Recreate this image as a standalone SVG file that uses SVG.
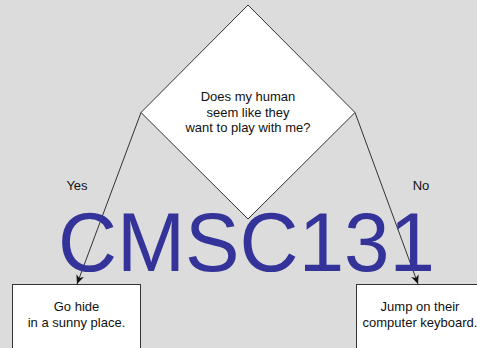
<svg xmlns="http://www.w3.org/2000/svg" width="477" height="348" viewBox="0 0 477 348">
<defs>
<style>
.shape{fill:#ffffff;stroke:#333333;stroke-width:1}
.edge{fill:none;stroke:#333333;stroke-width:1}
.lbl{font-family:"Liberation Sans",Arial,sans-serif;font-size:13px;fill:#111111;text-anchor:middle}
.wm{font-family:"Liberation Sans",Arial,sans-serif;font-size:84px;fill:#333399}
</style>
<marker id="arr" markerWidth="10" markerHeight="10" refX="9" refY="4" orient="auto" markerUnits="userSpaceOnUse">
<path d="M0,0 L9,4 L0,8 L2.5,4 Z" fill="#111111"/>
</marker>
</defs>
<rect width="477" height="348" fill="#dcdcdc"/>
<g id="connectors">
<path class="edge" d="M141,112.5 L77,284" marker-end="url(#arr)"/>
<path class="edge" d="M355,112.5 L418,284" marker-end="url(#arr)"/>
<text class="lbl" x="77" y="190">Yes</text>
<text class="lbl" x="421" y="190">No</text>
</g>
<g id="decision">
<polygon class="shape" points="248,5 355,112.5 248,219 141,112.5"/>
<text class="lbl" x="248" y="101">Does my human</text>
<text class="lbl" x="248" y="116.5">seem like they</text>
<text class="lbl" x="248" y="132">want to play with me?</text>
</g>
<g id="hide">
<rect class="shape" x="12.5" y="284.5" width="128" height="70"/>
<text class="lbl" x="76.5" y="311">Go hide</text>
<text class="lbl" x="76.5" y="327">in a sunny place.</text>
</g>
<g id="jump">
<rect class="shape" x="356.5" y="284.5" width="128" height="70"/>
<text class="lbl" x="420" y="311">Jump on their</text>
<text class="lbl" x="420" y="327">computer keyboard.</text>
</g>
<text class="wm" x="58" y="271" textLength="377" lengthAdjust="spacingAndGlyphs">CMSC131</text>
</svg>
